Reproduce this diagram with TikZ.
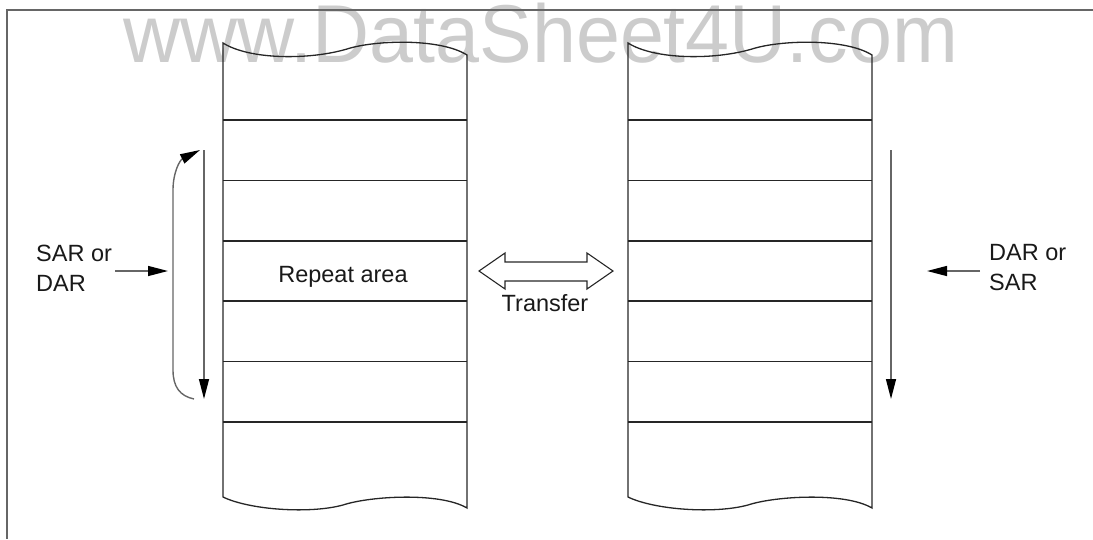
\documentclass[tikz,border=0pt]{standalone}
\usepackage{fontspec}
\setmainfont{Liberation Sans}
\usetikzlibrary{arrows.meta}
\begin{document}
\begin{tikzpicture}[x=1pt,y=-1pt,
  blockline/.style={line width=1.3pt,black!85},
  framel/.style={line width=2pt,black!60},
  garrow/.style={line width=1.4pt,black!60,-{Triangle[length=20pt,width=10pt,color=black]}},
  lbl/.style={font=\fontsize{23.5}{30}\selectfont,inner sep=0pt,text=black!90},
  wmark/.style={font=\fontsize{76}{80}\selectfont,text=black!20,inner sep=0pt}]
\useasboundingbox (0,0) rectangle (1093,539);
% watermark
\node[wmark,anchor=base,xscale=1.04,yscale=1.08] (wm) at (541,62) {www.DataSheet4U.com};
% frame
\coordinate (fTL) at (7,10);
\coordinate (fTR) at (1093,10);
\coordinate (fBL) at (7,539);
\draw[framel] (fTR) -- (fTL) -- (fBL);
% blocks
\foreach \dx in {0,405}{
  \begin{scope}[xshift=\dx pt]
    \draw[blockline] (223,43) .. controls (250,60) and (310,60) .. (347,49)
       .. controls (375,40) and (440,38) .. (467,55) -- (467,508)
       .. controls (440,492) and (370,496) .. (343,505)
       .. controls (310,514) and (250,510) .. (223,497) -- cycle;
    \foreach \yy in {120,180.5,241,301,361.5,422}
      \draw[blockline] (223,\yy) -- (467,\yy);
  \end{scope}
}
% texts
\node[lbl,anchor=base] (rep) at (343,282) {Repeat area};
\node[lbl,anchor=base] (tr) at (545,311) {Transfer};
\node[lbl,anchor=west,align=left] (sar) at (36,268) {SAR or\\DAR};
\node[lbl,anchor=west,align=left] (dar) at (989,268) {DAR or\\SAR};
% left arrows
\coordinate (lhs) at (115,271);
\coordinate (lhe) at (168,271);
\draw[garrow] (lhs) -- (lhe);
\coordinate (lvs) at (204,150);
\coordinate (lve) at (204,399);
\draw[garrow] (lvs) -- (lve);
\coordinate (lcs) at (194,399);
\coordinate (lce) at (200,150);
\draw[garrow] (lcs) .. controls (180,396) and (173,387) .. (173,370)
   -- (173,190) .. controls (173,172) and (180,160) .. (lce);
% right arrows
\coordinate (rhs) at (980,271);
\coordinate (rhe) at (927,271);
\draw[garrow] (rhs) -- (rhe);
\coordinate (rvs) at (891,150);
\coordinate (rve) at (891,399);
\draw[garrow] (rvs) -- (rve);
% transfer double arrow
\draw[line width=1.1pt,black!85] (479,271) -- (505,253) -- (505,262) -- (587,262) -- (587,253)
  -- (613,271) -- (587,289) -- (587,281) -- (505,281) -- (505,289) -- cycle;
\end{tikzpicture}
\end{document}
